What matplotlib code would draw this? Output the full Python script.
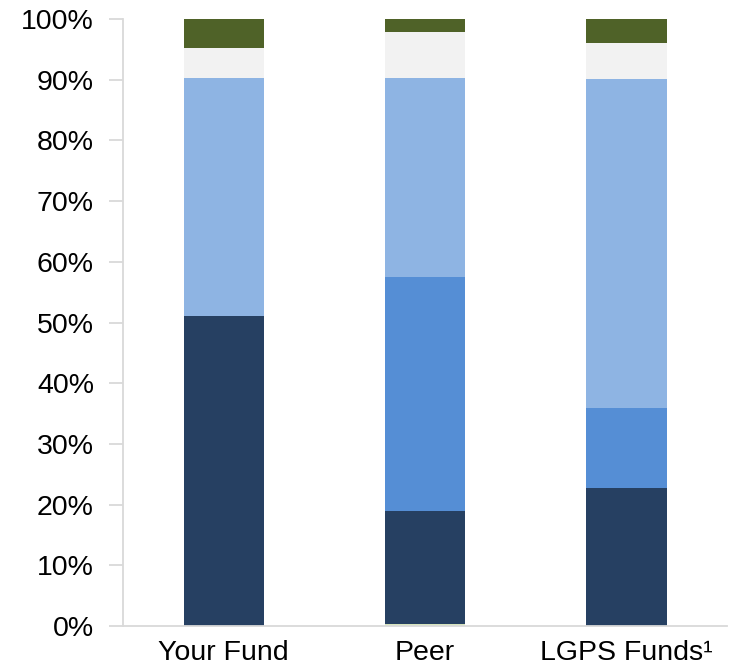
import matplotlib
matplotlib.use("Agg")
import matplotlib.pyplot as plt
import numpy as np

# Stacked shares (%), bottom to top
categories = ["Your Fund", "Peer", "LGPS Funds\u00b9"]
seg_light_green = [0.0, 0.3, 0.0]
seg_navy = [51.1, 18.7, 22.7]
seg_mid_blue = [0.0, 38.5, 13.2]
seg_light_blue = [39.2, 32.8, 54.2]
seg_grey = [4.9, 7.6, 5.9]
seg_green = [4.8, 2.1, 4.0]

series = [seg_light_green, seg_navy, seg_mid_blue, seg_light_blue, seg_grey, seg_green]
colors = ["#D7E4BD", "#264062", "#558ED5", "#8EB4E3", "#F2F2F2", "#4F6228"]

plt.rcParams["font.family"] = ["Liberation Sans", "DejaVu Sans"]

fig = plt.figure(figsize=(7.33, 6.65), dpi=100)
ax = fig.add_axes([0.168, 0.0586, 0.824, 0.9128])

x = np.arange(len(categories))
bottom = np.zeros(len(categories))
for vals, col in zip(series, colors):
    ax.bar(x, vals, 0.4, bottom=bottom, color=col, linewidth=0)
    bottom += np.array(vals)

ax.set_xlim(-0.5, 2.5)
ax.set_ylim(0, 100)
ax.set_yticks(np.arange(0, 101, 10))
ax.set_yticklabels([f"{v}%" for v in range(0, 101, 10)])
ax.set_xticks(x)
ax.set_xticklabels(categories)

for s in ["top", "right"]:
    ax.spines[s].set_visible(False)
for s in ["left", "bottom"]:
    ax.spines[s].set_color("#D9D9D9")
    ax.spines[s].set_linewidth(1.3)

ax.tick_params(axis="y", length=10, width=1.3, color="#D9D9D9", labelsize=20.5, pad=11)
ax.tick_params(axis="x", length=0, labelsize=20.5, pad=10)

fig.savefig("out.png", dpi=100)
